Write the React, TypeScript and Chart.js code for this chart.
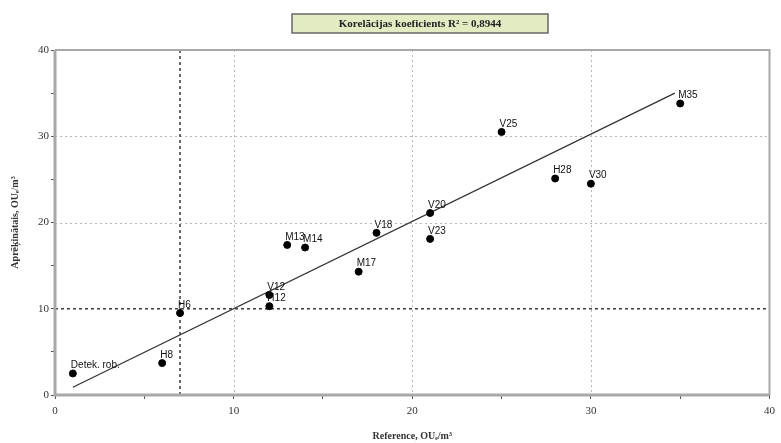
import React, { useEffect, useRef } from "react";
import { Chart, registerables } from "chart.js";

Chart.register(...registerables);

const pointNames = ["Detek. rob.", "H8", "H6", "V12", "H12", "M13", "M14", "M17", "V18", "V20", "V23", "V25", "H28", "V30", "M35"];
const referenceValues = [1, 6, 7, 12, 12, 13, 14, 17, 18, 21, 21, 25, 28, 30, 35];
const computedValues = [2.5, 3.7, 9.5, 11.6, 10.3, 17.4, 17.1, 14.3, 18.8, 21.1, 18.1, 30.5, 25.1, 24.5, 33.8];
const fitX = [1, 34.7];
const fitY = [0.9, 35.0];
const gridValues = [10, 20, 30];
const limitX = 7;
const limitY = 10;
const titleText = "Korelācijas koeficients R² = 0,8944";
const xTitle = "Reference, OUₑ/m³";
const yTitle = "Aprēķinātais, OUₑ/m³";

const decorPlugin = {
  id: "decor",
  beforeDatasetsDraw(chart: any) {
    const { ctx, chartArea, scales } = chart;
    const xs = scales.x, ys = scales.y;
    ctx.save();
    ctx.strokeStyle = "#b8b8b8";
    ctx.lineWidth = 1;
    ctx.setLineDash([2, 3]);
    gridValues.forEach((v) => {
      const px = Math.round(xs.getPixelForValue(v)) + 0.5;
      ctx.beginPath(); ctx.moveTo(px, chartArea.top); ctx.lineTo(px, chartArea.bottom); ctx.stroke();
      if (v !== limitY) {
        const py = Math.round(ys.getPixelForValue(v)) + 0.5;
        ctx.beginPath(); ctx.moveTo(chartArea.left, py); ctx.lineTo(chartArea.right, py); ctx.stroke();
      }
    });
    ctx.strokeStyle = "#444";
    ctx.lineWidth = 1.6;
    ctx.setLineDash([3, 3]);
    const lx = xs.getPixelForValue(limitX);
    ctx.beginPath(); ctx.moveTo(lx, chartArea.top); ctx.lineTo(lx, chartArea.bottom); ctx.stroke();
    const ly = ys.getPixelForValue(limitY);
    ctx.beginPath(); ctx.moveTo(chartArea.left, ly); ctx.lineTo(chartArea.right, ly); ctx.stroke();
    ctx.setLineDash([]);
    ctx.strokeStyle = "#a8a8a8";
    ctx.lineWidth = 2;
    ctx.beginPath();
    ctx.moveTo(chartArea.left, chartArea.top); ctx.lineTo(chartArea.right, chartArea.top); ctx.lineTo(chartArea.right, chartArea.bottom);
    ctx.stroke();
    ctx.lineWidth = 3;
    ctx.beginPath();
    ctx.moveTo(chartArea.left, chartArea.top); ctx.lineTo(chartArea.left, chartArea.bottom); ctx.lineTo(chartArea.right, chartArea.bottom);
    ctx.stroke();
    ctx.restore();
  },
  afterDraw(chart: any) {
    const { ctx, chartArea } = chart;
    ctx.save();
    const bx = 292, by = 14, bw = 256, bh = 19;
    ctx.fillStyle = "#e3ebc3";
    ctx.fillRect(bx, by, bw, bh);
    ctx.strokeStyle = "#6a6a6a";
    ctx.lineWidth = 1.5;
    ctx.strokeRect(bx, by, bw, bh);
    ctx.fillStyle = "#222";
    ctx.font = "bold 11px 'Liberation Serif', serif";
    ctx.textAlign = "center";
    ctx.textBaseline = "middle";
    ctx.fillText(titleText, bx + bw / 2, by + bh / 2 + 1);
    ctx.fillStyle = "#333";
    ctx.font = "bold 10px 'Liberation Serif', serif";
    ctx.fillText(xTitle, (chartArea.left + chartArea.right) / 2, 436);
    ctx.translate(15, (chartArea.top + chartArea.bottom) / 2);
    ctx.rotate(-Math.PI / 2);
    ctx.fillText(yTitle, 0, 0);
    ctx.restore();
    const meta = chart.getDatasetMeta(0);
    ctx.save();
    ctx.fillStyle = "#111";
    ctx.font = "10px 'Liberation Sans', sans-serif";
    ctx.textAlign = "left";
    ctx.textBaseline = "bottom";
    meta.data.forEach((el: any, i: number) => {
      ctx.fillText(pointNames[i], el.x - 2, el.y - 3);
    });
    ctx.restore();
  },
};

export default function App() {
  const ref = useRef<HTMLCanvasElement>(null);
  useEffect(() => {
    document.body.style.margin = "0";
    const chart = new Chart(ref.current!, {
      type: "scatter",
      data: {
        datasets: [
          {
            label: "points",
            data: referenceValues.map((x, i) => ({ x, y: computedValues[i] })),
            backgroundColor: "#000",
            borderColor: "#000",
            pointRadius: 3.5,
          },
          {
            label: "fit",
            type: "line",
            data: fitX.map((x, i) => ({ x, y: fitY[i] })),
            borderColor: "#333",
            borderWidth: 1.3,
            pointRadius: 0,
            fill: false,
          } as any,
        ],
      },
      options: {
        animation: false,
        responsive: false,
        layout: { padding: { left: 0, right: 6, top: 50, bottom: 0 } },
        plugins: { legend: { display: false }, tooltip: { enabled: false }, title: { display: false } },
        scales: {
          x: {
            type: "linear",
            min: 0,
            max: 40,
            border: { display: false },
            grid: { drawOnChartArea: false, drawTicks: true, tickLength: 4, color: "#555" },
            ticks: {
              stepSize: 5,
              padding: 6,
              color: "#333",
              font: { family: "'Liberation Serif', serif", size: 11 },
              callback: (v: any) => (v % 10 === 0 ? String(v) : ""),
            },
            afterFit: (s: any) => { s.height = 48; },
          },
          y: {
            type: "linear",
            min: 0,
            max: 40,
            border: { display: false },
            grid: { drawOnChartArea: false, drawTicks: true, tickLength: 4, color: "#555" },
            ticks: {
              stepSize: 5,
              padding: 2,
              color: "#333",
              font: { family: "'Liberation Serif', serif", size: 11 },
              callback: (v: any) => (v % 10 === 0 ? String(v) : ""),
            },
            afterFit: (s: any) => { s.width = 55; },
          },
        },
      },
      plugins: [decorPlugin],
    });
    return () => chart.destroy();
  }, []);
  return (
    <div style={{ width: 781, height: 443, background: "#fff" }}>
      <canvas ref={ref} width={781} height={443} style={{ display: "block" }} />
    </div>
  );
}
